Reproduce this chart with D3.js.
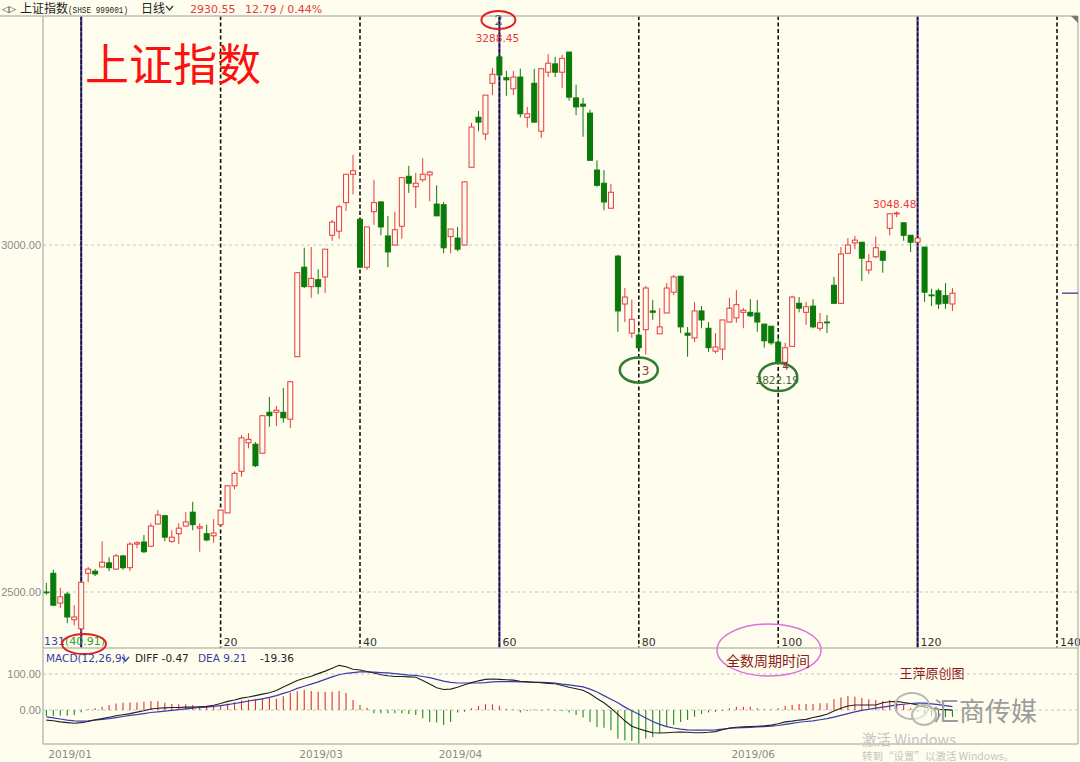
<!DOCTYPE html>
<html><head><meta charset="utf-8">
<script src="https://cdn.jsdelivr.net/npm/d3@7"></script>
<style>body{margin:0;background:#fffeee}svg{display:block}</style>
</head><body><svg id="c" width="1080" height="762"></svg>
<script>
// ---------------- DATA ----------------
const startIndex = -5;
const opens = [2500,2527,2484,2497,2460,2447,2527,2530,2536,2542,2533,2552,2535,2569,2572,2566,2598,2610,2573,2584,2595,2615,2592,2584,2581,2597,2614,2653,2674,2715,2713,2700,2759,2759,2759,2749,2839,2968,2940,2950,2954,3014,3020,3061,3102,3037,2968,3048,3062,3013,3000,3027,3099,3084,3094,3101,3059,3058,3012,3010,3000,3112,3184,3160,3233,3271,3241,3225,3242,3184,3233,3164,3249,3261,3249,3278,3212,3203,3190,3108,3089,3053,2984,2915,2873,2870,2878,2905,2872,2902,2932,2955,2873,2866,2905,2880,2847,2850,2889,2895,2903,2903,2902,2886,2883,2860,2831,2854,2916,2903,2912,2880,2889,2942,2916,2988,3003,3004,2964,2983,2991,3024,3045,3032,3014,3004,2997,2928,2934,2927,2915];
const highs = [2513,2532,2506,2500,2481,2514,2536,2533,2573,2550,2555,2553,2572,2573,2582,2599,2618,2610,2589,2599,2615,2630,2599,2597,2605,2618,2654,2674,2726,2729,2716,2755,2781,2768,2794,2804,2961,2996,2997,2965,2994,3036,3058,3102,3130,3037,3026,3094,3063,3042,3048,3097,3114,3104,3125,3107,3086,3062,3023,3026,3092,3176,3193,3216,3255,3271,3251,3251,3254,3199,3254,3254,3275,3271,3274,3278,3231,3212,3195,3122,3108,3088,2986,2938,2921,2880,2941,2921,2909,2945,2957,2955,2882,2918,2912,2889,2873,2892,2924,2935,2909,2922,2921,2886,2883,2866,2859,2927,2925,2918,2922,2902,2899,2954,2997,3010,3013,3004,2987,3012,2991,3045,3048.48,3032,3014,3010,2997,2937,2937,2945,2938];
const lows = [2496,2480,2477,2455,2452,2441,2514,2523,2536,2530,2532,2532,2530,2563,2556,2565,2597,2573,2571,2569,2594,2589,2558,2573,2571,2594,2614,2648,2666,2707,2680,2699,2738,2739,2744,2736,2839,2938,2924,2929,2931,3006,3009,3049,3073,2967,2964,3029,3014,2968,2999,3009,3075,3053,3091,3063,3042,2988,2988,2991,3000,3112,3164,3151,3216,3242,3215,3216,3184,3169,3177,3154,3242,3242,3226,3208,3187,3156,3122,3084,3050,3053,2875,2889,2866,2852,2842,2892,2872,2902,2928,2873,2839,2860,2880,2846,2844,2834,2888,2888,2880,2896,2875,2852,2856,2830,2824,2854,2903,2885,2880,2876,2873,2916,2915,2987,2994,2948,2958,2981,2960,3014,3040,3006,2990,3004,2918,2912,2908,2908,2905];
const closes = [2499,2481,2493,2464,2464,2514,2533,2526,2543,2535,2552,2535,2569,2571,2558,2595,2611,2579,2579,2592,2601,2597,2594,2575,2585,2618,2653,2671,2722,2720,2682,2754,2754,2762,2751,2803,2960,2940,2952,2940,2994,3033,3055,3102,3107,2968,3026,3061,3026,2990,3022,3097,3089,3089,3102,3105,3042,2996,3023,2994,3091,3170,3177,3216,3246,3245,3238,3242,3189,3189,3177,3254,3262,3249,3269,3213,3199,3200,3122,3086,3062,3076,2905,2925,2893,2852,2938,2903,2882,2938,2954,2882,2870,2905,2892,2852,2853,2892,2909,2914,2906,2898,2889,2862,2859,2830,2852,2925,2909,2911,2882,2888,2888,2916,2987,3000,3007,2981,2976,2996,2978,3045,3046,3014,3004,3010,2932,2927,2915,2916,2930.55];
const diffLine = [-28,-30,-33,-35,-37,-35,-32,-27,-24,-20,-16,-13,-10,-6,-2,3,5,6,7,7,8,8,9,10,13,18,24,28,33,36,40,44,48,54,64,73,82,88,94,101,108,116,124,120,113,111,107,103,98,95,93,93,92,91,82,72,62,57,58,63,70,76,81,85,86,85,84,83,80,78,77,76,74,73,68,63,59,55,45,32,20,5,-12,-30,-45,-52,-58,-63,-64,-63,-62,-61,-62,-63,-63,-62,-60,-55,-50,-48,-47,-46,-45,-44,-42,-38,-33,-31,-28,-26,-21,-17,-12,-3,5,11,14,14,14,14,20,23,24,21,18,14,8,4,2,1,-0.47];
const deaLine = [-19,-22,-25,-28,-30,-31,-30,-28,-26,-24,-21,-18,-15,-13,-10,-7,-5,-3,-1,1,3,5,7,8,10,12,15,18,21,25,28,31,35,40,46,52,60,66,72,78,85,92,98,102,104,106,106,105,104,103,101,99,97,96,93,90,85,80,77,75,75,75,75,76,78,79,79,79,78,78,77,77,76,75,72,70,67,64,58,50,40,30,20,8,-2,-12,-22,-32,-40,-46,-50,-53,-55,-56,-56,-56,-55,-53,-51,-50,-49,-48,-47,-46,-45,-43,-40,-37,-34,-32,-30,-27,-24,-20,-15,-10,-5,-1,2,5,8,11,14,16,18,19,19,17,15,12,9.21];
const macdBars = [-17,-17,-16,-16,-14,-6,3,5,9,14,18,20,21,21,23,25,24,20,17,16,16,14,11,10,9,13,18,22,27,29,29,33,35,31,38,48,52,56,53,51,51,51,53,48,28,14,6,-9,-9,-9,-9,-9,-11,-14,-23,-33,-35,-42,-33,-7,-5,5,11,16,16,12,3,2,-7,-3,2,-2,2,-2,-3,-7,-14,-21,-33,-47,-49,-56,-79,-84,-86,-93,-79,-75,-64,-47,-42,-33,-28,-19,-11,-7,-5,-2,5,9,9,9,5,2,2,5,11,14,17,17,17,19,19,30,35,39,37,33,30,28,25,28,23,14,5,-5,-12,-17,-20,-20,-19.36];
const priceTicks = [2500, 3000];
const macdTicks = [0, 100];
const periodTicks = [20, 40, 60, 80, 100, 120, 140];
const solidCycles = [0, 60, 120];
const dashedCycles = [20, 40, 80, 100, 140];
const monthLabels = ["2019/01", "2019/03", "2019/04", "2019/06"];
const monthIndex = [-5, 31, 51, 93];

// ---------------- LAYOUT ----------------
const BG = "#fffeee";
const RED = "#e8383c", GREEN = "#0a7a0a";
const L = 43, R = 1078, TOP = 16, PB = 648, MB = 744;
const svg = d3.select("#c");
const x = d3.scaleLinear().domain([0, 140]).range([81.2, 1057]);
const yP = d3.scaleLinear().domain([2500, 3000]).range([592, 245]);
const yM = d3.scaleLinear().domain([0, 100]).range([710, 674]);
const data = opens.map((o, k) => ({i: startIndex + k, o, h: highs[k], l: lows[k], c: closes[k]}));
const cjk = "'Noto Sans CJK SC','DejaVu Sans',sans-serif";
const lat = "'DejaVu Sans',Verdana,sans-serif";
const nar = "'Liberation Sans',Arial,sans-serif";

svg.append("rect").attr("width", 1080).attr("height", 762).attr("fill", BG);

// grid lines
svg.append("g").selectAll("line").data(priceTicks).join("line")
  .attr("x1", L).attr("x2", R).attr("y1", d => yP(d)).attr("y2", d => yP(d))
  .attr("stroke", "#c4c4c4").attr("stroke-dasharray", "3,3");
svg.append("g").selectAll("line").data(macdTicks).join("line")
  .attr("x1", L).attr("x2", R).attr("y1", d => yM(d)).attr("y2", d => yM(d))
  .attr("stroke", "#c4c4c4").attr("stroke-dasharray", "3,3");

// axes labels
const ax1 = svg.append("g").attr("transform", `translate(${L - 2},0)`)
  .call(d3.axisLeft(yP).tickValues(priceTicks).tickFormat(d3.format(".2f")).tickSize(0));
const ax2 = svg.append("g").attr("transform", `translate(${L - 2},0)`)
  .call(d3.axisLeft(yM).tickValues(macdTicks).tickFormat(d3.format(".2f")).tickSize(0));
[ax1, ax2].forEach(a => {
  a.select(".domain").remove();
  a.selectAll("text").attr("font-family", nar).attr("font-size", 11).attr("fill", "#8a8a8a").attr("x", 0);
});

// cycle lines
svg.append("g").selectAll("line").data(dashedCycles).join("line")
  .attr("x1", d => x(d)).attr("x2", d => x(d)).attr("y1", TOP).attr("y2", PB)
  .attr("stroke", "#111").attr("stroke-width", 1.6).attr("stroke-dasharray", "4,2.5");
svg.append("g").selectAll("line").data(solidCycles).join("line")
  .attr("x1", d => x(d)).attr("x2", d => x(d)).attr("y1", TOP).attr("y2", PB)
  .attr("stroke", "#5446b8").attr("stroke-width", 2.2);
svg.append("g").selectAll("line").data(solidCycles).join("line")
  .attr("x1", d => x(d)).attr("x2", d => x(d)).attr("y1", TOP).attr("y2", PB)
  .attr("stroke", "#111").attr("stroke-width", 1.4).attr("stroke-dasharray", "4,1.5");

// candles
const cg = svg.append("g");
const bw = 5;
cg.selectAll("line.w").data(data).join("line")
  .attr("x1", d => x(d.i)).attr("x2", d => x(d.i))
  .attr("y1", d => yP(d.h)).attr("y2", d => yP(d.l))
  .attr("stroke", d => d.c >= d.o ? RED : GREEN).attr("stroke-width", 1);
cg.selectAll("rect").data(data).join("rect")
  .attr("x", d => x(d.i) - bw / 2)
  .attr("width", bw)
  .attr("y", d => yP(Math.max(d.o, d.c)))
  .attr("height", d => Math.max(0.8, Math.abs(yP(d.o) - yP(d.c))))
  .attr("fill", d => d.c >= d.o ? BG : GREEN)
  .attr("stroke", d => d.c >= d.o ? RED : GREEN).attr("stroke-width", 1);

// period tick labels
svg.append("g").selectAll("text").data(periodTicks).join("text")
  .attr("x", d => x(d) + 3).attr("y", 646).text(d => d)
  .attr("font-family", lat).attr("font-size", 11).attr("fill", "#333");
const t131 = svg.append("text").attr("x", 44).attr("y", 645).attr("font-family", lat).attr("font-size", 11);
t131.append("tspan").attr("fill", "#4040a8").text("131");
t131.append("tspan").attr("fill", "#30a030").text("(40.91)");

// borders
svg.append("line").attr("x1", 0).attr("x2", R).attr("y1", TOP).attr("y2", TOP).attr("stroke", "#bdbdb0").attr("stroke-width", 1.5);
svg.append("line").attr("x1", L).attr("x2", R).attr("y1", PB).attr("y2", PB).attr("stroke", "#bdbdb0").attr("stroke-width", 1.5);
svg.append("line").attr("x1", L).attr("x2", R).attr("y1", MB).attr("y2", MB).attr("stroke", "#bdbdb0").attr("stroke-width", 1.5);
svg.append("line").attr("x1", L).attr("x2", L).attr("y1", TOP).attr("y2", MB).attr("stroke", "#bdbdb0").attr("stroke-width", 1.5);
svg.append("line").attr("x1", R).attr("x2", R).attr("y1", TOP).attr("y2", MB).attr("stroke", "#bdbdb0").attr("stroke-width", 1.5);
svg.append("path").attr("d", `M${R - 7},${TOP} L${R},${TOP} L${R},${TOP + 7} Z`).attr("fill", "#777");
svg.append("line").attr("x1", 1062).attr("x2", R).attr("y1", yP(closes[closes.length - 1])).attr("y2", yP(closes[closes.length - 1]))
  .attr("stroke", "#55559a").attr("stroke-width", 1.5);

// header
const hdr = svg.append("g");
hdr.append("text").attr("x", 2).attr("y", 12).attr("font-family", lat).attr("font-size", 9).attr("fill", "#333").text("◁▷");
hdr.append("text").attr("x", 20).attr("y", 12.5).attr("font-family", cjk).attr("fill", "#222").attr("font-size", 12).text("上证指数");
hdr.append("text").attr("x", 68).attr("y", 12.5).attr("font-family", "'Liberation Mono',monospace").attr("fill", "#222").attr("font-size", 8.6)
  .attr("textLength", 60).attr("lengthAdjust", "spacingAndGlyphs").text("(SHSE 999001)");
hdr.append("text").attr("x", 141).attr("y", 12.5).attr("font-family", cjk).attr("fill", "#222").attr("font-size", 12).text("日线");
hdr.append("path").attr("d", "M166,6 L169.5,10 L173,6").attr("fill", "none").attr("stroke", "#333").attr("stroke-width", 1.3);
hdr.append("text").attr("x", 190).attr("y", 12.5).attr("font-family", lat).attr("font-size", 11).attr("fill", RED).text("2930.55");
hdr.append("text").attr("x", 245).attr("y", 12.5).attr("font-family", lat).attr("font-size", 11).attr("fill", RED).text("12.79 / 0.44%");

// title
svg.append("text").attr("x", 85).attr("y", 81).attr("font-family", cjk).attr("font-size", 44).attr("fill", "#ff1010").text("上证指数");

// annotations in price panel
svg.append("ellipse").attr("cx", x(60) - 1).attr("cy", 20).attr("rx", 17).attr("ry", 9).attr("fill", "none").attr("stroke", "#e02020").attr("stroke-width", 2);
svg.append("text").attr("x", x(60) - 5).attr("y", 25).attr("font-family", "'DejaVu Serif',serif").attr("font-size", 13).attr("fill", "#555").text("2");
svg.append("text").attr("x", x(60) - 2).attr("y", 42).attr("text-anchor", "middle").attr("font-family", lat).attr("font-size", 10.5).attr("fill", RED).text("3288.45");
svg.append("text").attr("x", x(117) - 2).attr("y", 208).attr("text-anchor", "middle").attr("font-family", lat).attr("font-size", 10.5).attr("fill", RED).text("3048.48");
svg.append("ellipse").attr("cx", x(80)).attr("cy", 370).attr("rx", 19).attr("ry", 12.5).attr("fill", "none").attr("stroke", "#2f7d32").attr("stroke-width", 2.5);
svg.append("text").attr("x", x(80) + 3).attr("y", 375).attr("font-family", lat).attr("font-size", 12).attr("fill", "#8a3a3a").text("3");
svg.append("ellipse").attr("cx", x(100)).attr("cy", 377).attr("rx", 19).attr("ry", 14).attr("fill", "none").attr("stroke", "#2f7d32").attr("stroke-width", 2.5);
svg.append("text").attr("x", x(100) - 1).attr("y", 384).attr("text-anchor", "middle").attr("font-family", lat).attr("font-size", 10.5).attr("fill", "#4a6a3a").text("2822.19");
svg.append("text").attr("x", x(100) + 4).attr("y", 370).attr("font-family", lat).attr("font-size", 10.5).attr("fill", "#9a3030").text("4");
svg.append("ellipse").attr("cx", 84).attr("cy", 644).attr("rx", 22).attr("ry", 10).attr("fill", "none").attr("stroke", "#e02020").attr("stroke-width", 2);

// MACD panel
const mg = svg.append("g");
mg.selectAll("line").data(data).join("line")
  .attr("x1", d => x(d.i)).attr("x2", d => x(d.i))
  .attr("y1", yM(0)).attr("y2", (d, k) => yM(macdBars[k]))
  .attr("stroke", (d, k) => macdBars[k] >= 0 ? "#e03030" : "#1e8c1e").attr("stroke-width", 1.1);
const lineGen = arr => d3.line().x(d => x(d.i)).y((d, k) => yM(arr[k]))(data);
mg.append("path").attr("d", lineGen(deaLine)).attr("fill", "none").attr("stroke", "#3a3ab0").attr("stroke-width", 1.2);
mg.append("path").attr("d", lineGen(diffLine)).attr("fill", "none").attr("stroke", "#222").attr("stroke-width", 1.1);

const mh = svg.append("g").attr("font-family", lat).attr("font-size", 10.5);
mh.append("text").attr("x", 46).attr("y", 662).attr("fill", "#3a3aa8").text("MACD(12,26,9)");
mh.append("path").attr("d", "M122,657 L125.5,661 L129,657").attr("fill", "none").attr("stroke", "#3a3aa8").attr("stroke-width", 1.3);
mh.append("text").attr("x", 135).attr("y", 662).attr("fill", "#222").text("DIFF -0.47");
mh.append("text").attr("x", 198).attr("y", 662).attr("fill", "#3a3aa8").text("DEA 9.21");
mh.append("text").attr("x", 260).attr("y", 662).attr("fill", "#222").text("-19.36");

// month labels
svg.append("g").selectAll("text").data(monthLabels).join("text")
  .attr("x", (d, k) => x(monthIndex[k]) + 2).attr("y", 758).text(d => d)
  .attr("font-family", lat).attr("font-size", 10.5).attr("fill", "#8a8a8a");

// notes
svg.append("ellipse").attr("cx", 769).attr("cy", 650).attr("rx", 52).attr("ry", 26).attr("fill", "none").attr("stroke", "#e070e0").attr("stroke-width", 1.5);
svg.append("text").attr("x", 768).attr("y", 666).attr("text-anchor", "middle").attr("font-family", cjk).attr("font-size", 14).attr("fill", "#8b1c1c").text("全数周期时间");
svg.append("text").attr("x", 932).attr("y", 678).attr("text-anchor", "middle").attr("font-family", cjk).attr("font-size", 13).attr("fill", "#8b1c1c").text("王萍原创图");

// watermark
const wm = svg.append("g");
wm.append("ellipse").attr("cx", 912).attr("cy", 706).attr("rx", 17).attr("ry", 13).attr("fill", "none").attr("stroke", "#b8b8b8").attr("stroke-width", 2);
wm.append("ellipse").attr("cx", 924).attr("cy", 715).attr("rx", 12).attr("ry", 10).attr("fill", BG).attr("fill-opacity", 0.6).attr("stroke", "#b8b8b8").attr("stroke-width", 2);
wm.append("text").attr("x", 933).attr("y", 721).attr("font-family", cjk).attr("font-size", 26).attr("fill", "#9c9c9c").text("汇商传媒");
wm.append("text").attr("x", 862).attr("y", 745).attr("font-family", cjk).attr("font-size", 14.5).attr("fill", "#c4c4c4").text("激活 Windows");
wm.append("text").attr("x", 862).attr("y", 760).attr("font-family", cjk).attr("font-size", 10.5).attr("fill", "#c4c4c4").text("转到“设置”以激活 Windows。");
</script></body></html>
